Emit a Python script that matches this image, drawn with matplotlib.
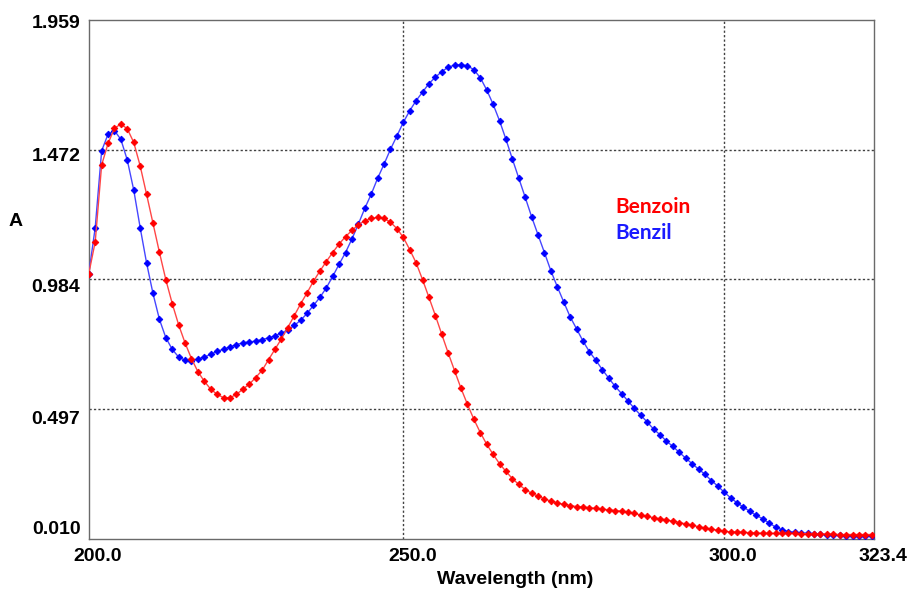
import matplotlib
matplotlib.use("Agg")
import matplotlib.pyplot as plt
import matplotlib.transforms as mtransforms
import numpy as np

# ---------------- data ----------------
wavelength = list(range(201, 324))  # nm, 1 nm step

benzoin = [
    1.006, 1.125, 1.414, 1.495, 1.552, 1.568, 1.550, 1.499, 1.411, 1.304,
    1.195, 1.086, 0.983, 0.893, 0.813, 0.745, 0.686, 0.637, 0.601, 0.571,
    0.552, 0.539, 0.539, 0.552, 0.571, 0.590, 0.615, 0.642, 0.682, 0.721,
    0.760, 0.803, 0.847, 0.892, 0.933, 0.977, 1.015, 1.051, 1.085, 1.117,
    1.145, 1.168, 1.190, 1.204, 1.213, 1.217, 1.213, 1.199, 1.175, 1.142,
    1.096, 1.046, 0.983, 0.916, 0.848, 0.777, 0.707, 0.640, 0.574, 0.514,
    0.458, 0.408, 0.364, 0.326, 0.291, 0.262, 0.235, 0.213, 0.194, 0.180,
    0.169, 0.159, 0.150, 0.144, 0.138, 0.134, 0.130, 0.128, 0.126, 0.123,
    0.120, 0.118, 0.115, 0.113, 0.109, 0.104, 0.098, 0.093, 0.088, 0.084,
    0.080, 0.075, 0.070, 0.065, 0.060, 0.054, 0.050, 0.045, 0.041, 0.037,
    0.035, 0.034, 0.033, 0.032, 0.030, 0.030, 0.029, 0.029, 0.029, 0.029,
    0.029, 0.028, 0.028, 0.027, 0.027, 0.026, 0.026, 0.025, 0.025, 0.025,
    0.025, 0.025, 0.025,
]

benzil = [
    1.006, 1.179, 1.467, 1.530, 1.543, 1.510, 1.432, 1.320, 1.179, 1.046,
    0.931, 0.834, 0.765, 0.721, 0.692, 0.680, 0.677, 0.684, 0.692, 0.702,
    0.714, 0.721, 0.730, 0.739, 0.745, 0.749, 0.752, 0.758, 0.764, 0.772,
    0.782, 0.793, 0.811, 0.830, 0.856, 0.886, 0.916, 0.952, 0.995, 1.041,
    1.085, 1.136, 1.192, 1.251, 1.304, 1.364, 1.417, 1.473, 1.523, 1.574,
    1.618, 1.656, 1.688, 1.720, 1.744, 1.765, 1.782, 1.789, 1.791, 1.787,
    1.772, 1.742, 1.696, 1.642, 1.580, 1.510, 1.436, 1.364, 1.292, 1.219,
    1.151, 1.084, 1.016, 0.956, 0.899, 0.843, 0.798, 0.752, 0.712, 0.680,
    0.645, 0.613, 0.582, 0.555, 0.527, 0.499, 0.473, 0.448, 0.421, 0.400,
    0.376, 0.356, 0.334, 0.312, 0.291, 0.271, 0.251, 0.228, 0.207, 0.184,
    0.163, 0.144, 0.128, 0.112, 0.097, 0.084, 0.068, 0.053, 0.043, 0.036,
    0.033, 0.030, 0.029, 0.028, 0.026, 0.025, 0.024, 0.022, 0.021, 0.021,
    0.020, 0.020, 0.020,
]

x_ticks = [201.0, 250.0, 300.0, 323.4]
x_tick_labels = ["200.0", "250.0", "300.0", "323.4"]
y_ticks = [0.010, 0.497, 0.984, 1.472, 1.959]
y_tick_labels = ["0.010", "0.497", "0.984", "1.472", "1.959"]

series_names = ["Benzoin", "Benzil"]

# ---------------- figure ----------------
W, H, DPI = 916, 593, 100
fig = plt.figure(figsize=(W / DPI, H / DPI), dpi=DPI)
fig.patch.set_facecolor("white")

left_px, right_px, top_px, bottom_px = 88.8, 874.4, 20.0, 538.5
ax = fig.add_axes([left_px / W, 1 - bottom_px / H,
                   (right_px - left_px) / W, (bottom_px - top_px) / H])

ax.plot(wavelength, benzil, color="#4646ff", lw=1.0, zorder=3,
        marker="D", ms=3.4, mfc="#0000ff", mec="#0000ff", mew=0.6)
ax.plot(wavelength, benzoin, color="#ff4646", lw=1.0, zorder=4,
        marker="D", ms=3.4, mfc="#ff0000", mec="#ff0000", mew=0.6)

ax.set_xlim(x_ticks[0], x_ticks[-1])
ax.set_ylim(y_ticks[0], y_ticks[-1])

# grid lines (interior only)
for gx in x_ticks[1:-1]:
    ax.axvline(gx, color="#404040", lw=1.0, ls=(0, (1.6, 1.6)), zorder=1)
for gy in y_ticks[1:-1]:
    ax.axhline(gy, color="#404040", lw=1.0, ls=(0, (1.6, 1.6)), zorder=1)

for s in ax.spines.values():
    s.set_color("#6a6a6a")
    s.set_linewidth(1.0)

tick_font = dict(family="Liberation Sans", weight="bold", size=14)
ax.set_xticks(x_ticks)
ax.set_xticklabels(x_tick_labels, **tick_font)
ax.set_yticks(y_ticks)
ax.set_yticklabels(y_tick_labels, **tick_font)
ax.tick_params(axis="both", length=0, colors="black")
ax.tick_params(axis="x", pad=7)
ax.tick_params(axis="y", pad=6)

# shift x tick labels slightly right as in the reference
for lab in ax.get_xticklabels():
    lab.set_transform(lab.get_transform() +
                      mtransforms.ScaledTranslation(9 / DPI, 0, fig.dpi_scale_trans))
# small vertical offsets of y tick labels
y_offsets_px = [11, -9, -6, -4.5, -1]
for lab, dy in zip(ax.get_yticklabels(), y_offsets_px):
    lab.set_transform(lab.get_transform() +
                      mtransforms.ScaledTranslation(0, dy / DPI, fig.dpi_scale_trans))

fig.text(515 / W, 1 - 579 / H, "Wavelength (nm)", ha="center", va="center",
         **tick_font)
fig.text(16 / W, 1 - 221 / H, "A", ha="center", va="center", **tick_font)

legend_font = dict(family="Lato", weight="bold", size=15)
fig.text(615 / W, 1 - 207 / H, series_names[0], color="#ff0000",
         ha="left", va="center", **legend_font)
fig.text(615 / W, 1 - 233 / H, series_names[1], color="#1a1aff",
         ha="left", va="center", **legend_font)

fig.savefig("out.png", dpi=DPI, facecolor="white")
